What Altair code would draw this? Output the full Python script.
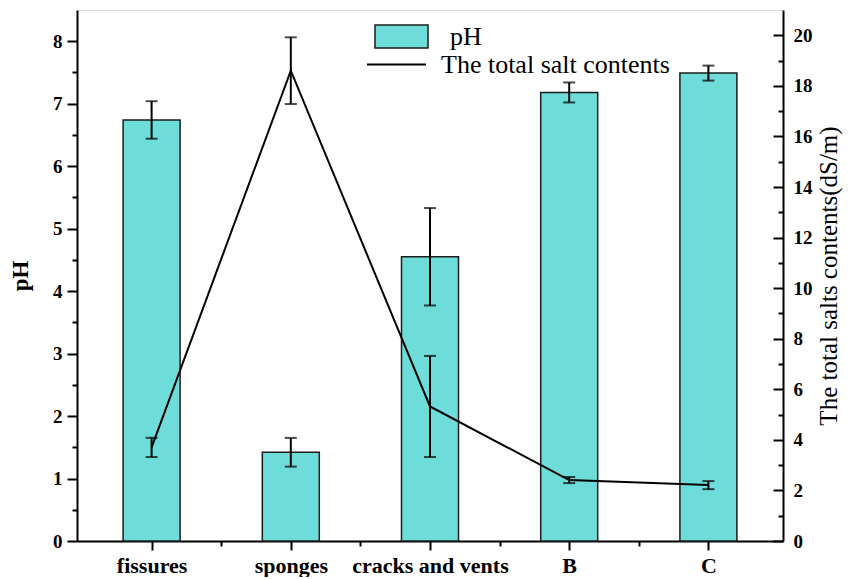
import altair as alt
import pandas as pd

categories = ['fissures', 'sponges', 'cracks and vents', 'B', 'C']
ph = [6.74, 1.42, 4.55, 7.18, 7.49]
ph_err = [0.30, 0.23, 0.78, 0.16, 0.12]
salt = [3.70, 18.6, 5.32, 2.41, 2.21]
salt_err = [0.38, 1.32, 2.0, 0.12, 0.16]

ph_series = 'pH'
salt_series = 'The total salt contents'

df = pd.DataFrame({
    'idx': list(range(len(categories))),
    'cat': categories,
    'ph': ph,
    'ph_lo': [v - e for v, e in zip(ph, ph_err)],
    'ph_hi': [v + e for v, e in zip(ph, ph_err)],
    'salt': salt,
    'salt_lo': [v - e for v, e in zip(salt, salt_err)],
    'salt_hi': [v + e for v, e in zip(salt, salt_err)],
    'ph_series': ph_series,
    'salt_series': salt_series,
})

FONT = 'Liberation Serif'
W, H = 706, 531

cat_js = "[" + ",".join("'%s'" % c for c in categories) + "]"
x_axis = alt.Axis(
    values=[i * 0.5 for i in range(2 * len(categories) - 1)],
    labelExpr=f"datum.value % 1 === 0 ? {cat_js}[datum.value] : ''",
    tickSize={'condition': {'test': 'datum.value % 1 === 0', 'value': 9}, 'value': 5},
    title=None, grid=False, domainColor='black', domainWidth=2,
    tickColor='black', tickWidth=2, labelColor='black',
    labelFont=FONT, labelFontSize=22, labelFontWeight='bold', labelPadding=5,
)
X = alt.X('idx:Q', scale=alt.Scale(domain=[-0.5, len(categories) - 0.5], nice=False, zero=False), axis=x_axis)

ph_scale = alt.Scale(domain=[0, 8.5], nice=False, zero=True)
ph_axis = alt.Axis(
    orient='left', values=[i * 0.5 for i in range(17)],
    labelExpr="datum.value % 1 === 0 ? toString(datum.value) : ''",
    tickSize={'condition': {'test': 'datum.value % 1 === 0', 'value': 10}, 'value': 5},
    title='pH', titleFont=FONT, titleFontSize=23, titleFontWeight='bold', titleColor='black',
    titlePadding=20, labelFont=FONT, labelFontSize=19, labelFontWeight='bold', labelColor='black',
    labelPadding=5, domainColor='black', domainWidth=2, tickColor='black', tickWidth=2, grid=False,
)

bars = alt.Chart(df).mark_bar(orient='vertical', size=57, stroke='#1c1c1c', strokeWidth=1.5).encode(
    x=X,
    y=alt.Y('ph:Q', scale=ph_scale, axis=ph_axis),
    color=alt.Color('ph_series:N', scale=alt.Scale(domain=[ph_series], range=['#6EDCD8']),
                    legend=alt.Legend(title=None, orient='none', legendX=297, legendY=-1,
                                      symbolType='M-1,-0.434H1V0.434H-1Z', symbolSize=2809,
                                      symbolStrokeWidth=1.5, symbolStrokeColor='#1c1c1c',
                                      labelFont=FONT, labelFontSize=26, labelColor='black',
                                      labelOffset=21, labelLimit=400, padding=0)),
)
ph_rule = alt.Chart(df).mark_rule(color='black', strokeWidth=2).encode(
    x=X, y=alt.Y('ph_lo:Q', scale=ph_scale, axis=ph_axis), y2='ph_hi:Q')
ph_caps = alt.Chart(df).transform_fold(['ph_lo', 'ph_hi'], as_=['k', 'v']).mark_tick(
    orient='horizontal', size=12, thickness=2, color='black').encode(
    x=X, y=alt.Y('v:Q', scale=ph_scale, axis=ph_axis))

layer_ph = alt.layer(bars, ph_rule, ph_caps)

salt_scale = alt.Scale(domain=[0, 21], nice=False, zero=True)
salt_axis = alt.Axis(
    orient='right', values=list(range(0, 21, 2)), ticks=False, tickSize=0, labelPadding=10,
    title='The total salts contents(dS/m)', titleAngle=270, titleFont=FONT, titleFontSize=25,
    titleFontWeight='normal', titleColor='black', titlePadding=29,
    labelFont=FONT, labelFontSize=19, labelFontWeight='bold', labelColor='black',
    domainColor='black', domainWidth=2, grid=False,
)
salt_tick_axis = alt.Axis(
    orient='left', offset=-W, values=list(range(0, 21)), labels=False, domain=False, title=None,
    grid=False, tickColor='black', tickWidth=2,
    tickSize={'condition': {'test': 'datum.value % 2 === 0', 'value': 10}, 'value': 5},
)

salt_line = alt.Chart(df).mark_line(strokeWidth=2).encode(
    x=X,
    y=alt.Y('salt:Q', scale=salt_scale, axis=salt_axis),
    stroke=alt.Stroke('salt_series:N', scale=alt.Scale(domain=[salt_series], range=['black']),
                      legend=alt.Legend(title=None, orient='none', legendX=289, legendY=24,
                                        symbolType='stroke', symbolSize=3481, symbolStrokeWidth=2,
                                        labelFont=FONT, labelFontSize=26, labelColor='black',
                                        labelOffset=14, labelLimit=400, padding=0)),
)
salt_rule = alt.Chart(df).mark_rule(color='black', strokeWidth=2).encode(
    x=X, y=alt.Y('salt_lo:Q', scale=salt_scale, axis=salt_tick_axis), y2='salt_hi:Q')
salt_caps = alt.Chart(df).transform_fold(['salt_lo', 'salt_hi'], as_=['k', 'v']).mark_tick(
    orient='horizontal', size=12, thickness=2, color='black').encode(
    x=X, y=alt.Y('v:Q', scale=salt_scale, axis=None))

layer_salt = alt.layer(salt_line, salt_rule, salt_caps).resolve_axis(y='independent')

chart = alt.layer(layer_ph, layer_salt).resolve_scale(y='independent').properties(
    width=W, height=H, autosize='none',
    padding={'left': 69, 'top': 2, 'right': 62, 'bottom': 36},
).configure_view(stroke='black', strokeWidth=1).configure(font=FONT)

chart.save("out.html", embed_options={"renderer": "svg", "actions": False})
